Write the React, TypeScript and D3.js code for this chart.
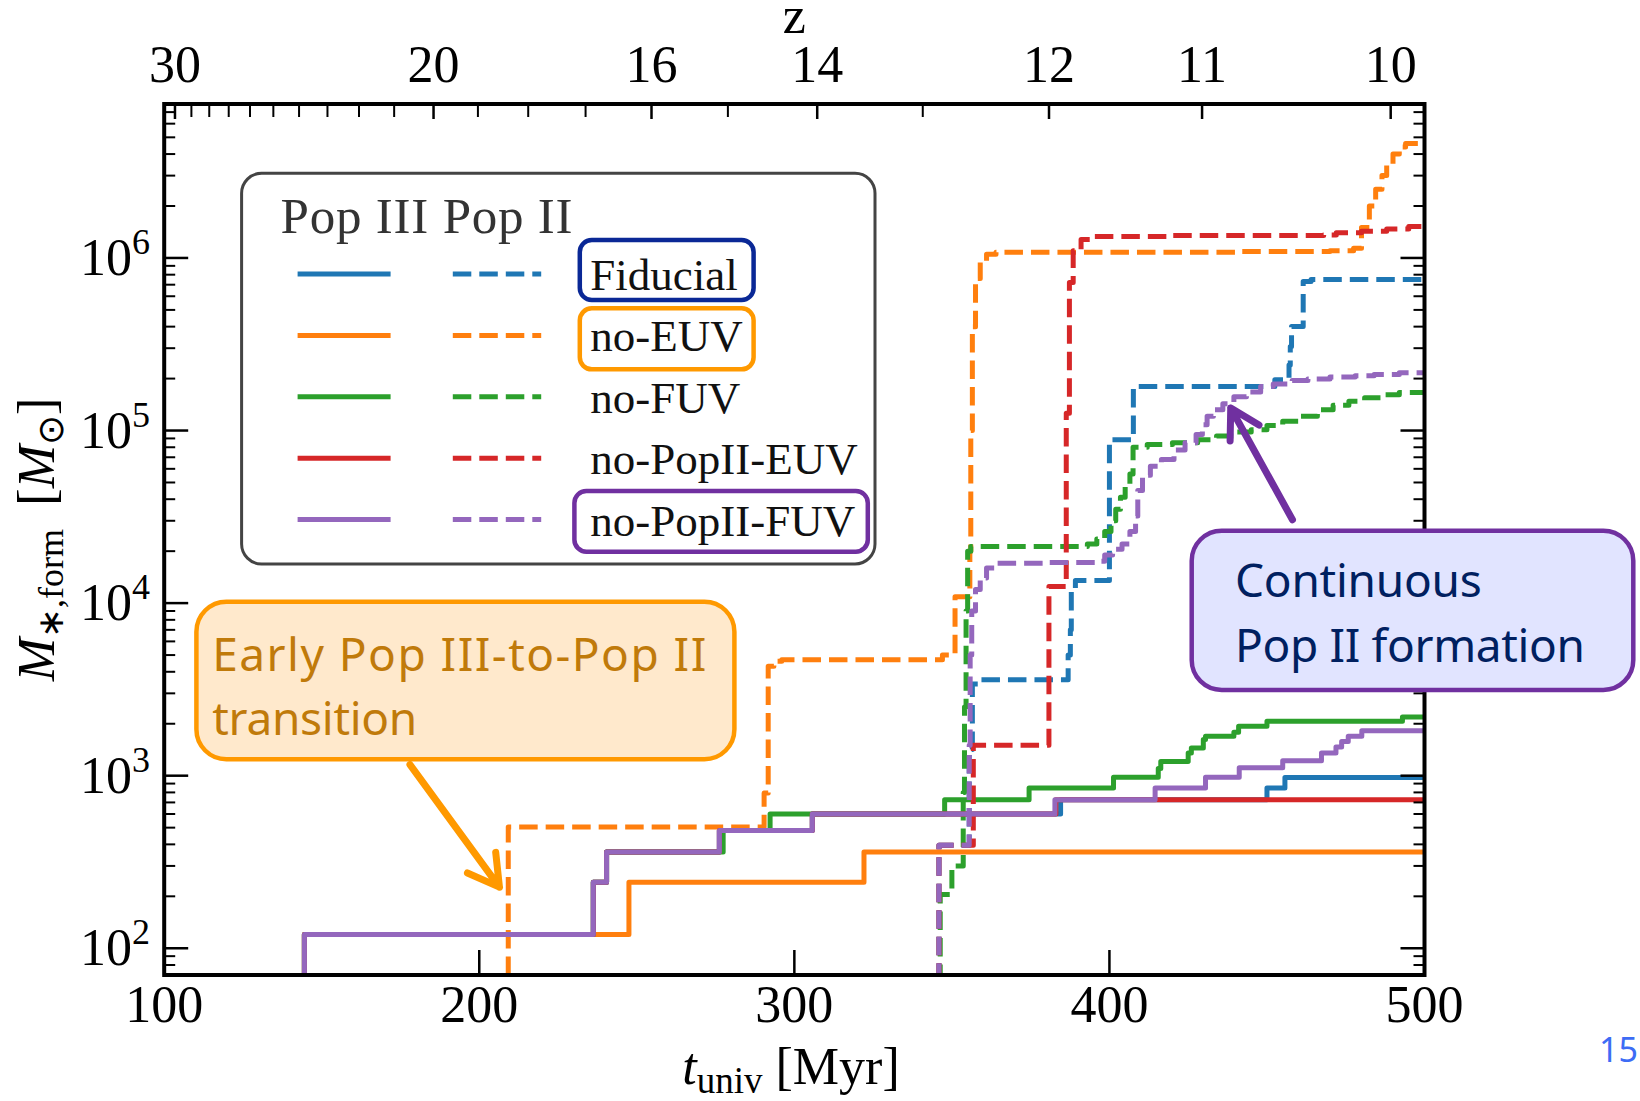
import React from 'react';
import * as d3 from 'd3';

type Pt = [number, number];

// Stand-in for "nothing formed yet" on the log axis (sits below the visible range).
const NONE = 1;

const MODELS = ['Fiducial', 'no-EUV', 'no-FUV', 'no-PopII-EUV', 'no-PopII-FUV'];
const COLORS = ['#1f77b4', '#ff7f0e', '#2ca02c', '#d62728', '#9467bd'];

// Cumulative formed stellar mass [Msun] vs cosmic time [Myr]; each point starts a new level.
// Pop III (solid)
const fiducialPop3: Pt[] = [[100, NONE], [144.5, 120], [236.2, 241], [240.4, 361], [276.2, 482], [305.7, 600], [384.5, 726], [450, 849], [455.7, 975], [500, 975]];
const noEuvPop3: Pt[] = [[100, NONE], [144.5, 120], [247.5, 241], [322.1, 361], [500, 361]];
const noFuvPop3: Pt[] = [[100, NONE], [144.5, 120], [236.2, 241], [240.4, 361], [277.4, 482], [292.3, 600], [347.7, 726], [374.5, 849], [401.3, 981], [415.5, 1100], [416.3, 1210], [425, 1352], [426, 1446], [429.8, 1618], [430.5, 1695], [439.5, 1784], [441, 1935], [450, 2070], [493, 2190], [500, 2190]];
const noPop2EuvPop3: Pt[] = [[100, NONE], [144.5, 120], [236.2, 241], [240.4, 361], [276.2, 482], [305.7, 600], [383, 726], [500, 726]];
const noPop2FuvPop3: Pt[] = [[100, NONE], [144.5, 120], [236.2, 241], [240.4, 361], [276.2, 482], [305.7, 600], [382.7, 726], [414.5, 849], [430.5, 981], [441.2, 1110], [455, 1220], [467.3, 1352], [471.9, 1466], [473.7, 1580], [475.8, 1695], [480.1, 1823], [500, 1823]];

// Pop II (dashed)
const fiducialPop2: Pt[] = [[100, NONE], [345.9, 395], [355.5, 1420], [356.5, 3400], [359, 3600], [386.9, 5000], [387.6, 7000], [387.9, 11800], [389.2, 13500], [400, 88500], [407.6, 180000], [452.5, 197000], [457, 240000], [457.4, 307000], [457.8, 401000], [461.5, 731000], [464, 750000], [500, 750000]];
const noEuvPop2: Pt[] = [[100, NONE], [209.2, 505], [290.4, 794], [291.7, 4300], [293.5, 4600], [296, 4700], [347, 5000], [351, 10900], [355.7, 20000], [356, 100000], [356.5, 400000], [357.5, 760000], [359, 950000], [361, 1050000], [364, 1080000], [440, 1090000], [470, 1100000], [477.5, 1140000], [480, 1500000], [482.5, 2000000], [484.5, 2500000], [486.5, 3000000], [488, 3500000], [490, 4000000], [492, 4400000], [494, 4600000], [500, 4600000]];
const noFuvPop2: Pt[] = [[100, NONE], [346.3, 205], [350, 300], [353.6, 800], [354, 2500], [354.5, 9000], [355, 20000], [356, 21300], [393, 22000], [396, 23500], [398.5, 26000], [400.5, 30000], [402, 35000], [403.5, 41000], [405, 48000], [406.5, 56000], [407.5, 80000], [412, 83000], [420, 85000], [428, 88500], [434, 93000], [440, 98000], [445, 101000], [450, 107000], [455, 113000], [460, 121000], [466, 132000], [471, 140000], [476, 148000], [481, 155000], [487, 161000], [492, 166000], [500, 166000]];
const noPop2EuvPop2: Pt[] = [[100, NONE], [345.9, 395], [356.8, 1500], [380.8, 12500], [386.3, 126000], [387.3, 720000], [388.5, 1100000], [391, 1280000], [394, 1330000], [420, 1350000], [468, 1360000], [472, 1400000], [480, 1430000], [488, 1470000], [495, 1520000], [500, 1550000]];
const noPop2FuvPop2: Pt[] = [[100, NONE], [345.9, 395], [355.5, 1500], [355.8, 5000], [356.3, 9000], [357.5, 12000], [359, 14000], [361, 16000], [364, 17000], [380, 17200], [396, 17500], [398.5, 19000], [401, 20500], [404, 22000], [406.5, 26000], [408.3, 32000], [409, 45000], [410.5, 55000], [413, 62000], [416.5, 68000], [420.5, 77000], [424, 85000], [427.5, 95000], [429.5, 108000], [431, 121000], [433, 132000], [436, 143000], [439.5, 157000], [443.5, 167000], [448, 180000], [452, 186000], [458, 195000], [463, 199000], [470, 204000], [478, 208000], [484, 211000], [492, 216000], [500, 220000]];

const POP3 = [fiducialPop3, noEuvPop3, noFuvPop3, noPop2EuvPop3, noPop2FuvPop3];
const POP2 = [fiducialPop2, noEuvPop2, noFuvPop2, noPop2EuvPop2, noPop2FuvPop2];

const X_TICKS = [100, 200, 300, 400, 500];
const Z_LABELED = [30, 20, 16, 14, 12, 11, 10];
const Z_MINOR = [29, 28, 27, 26, 25, 24, 23, 22, 21, 19, 18, 17, 15, 13];
const Y_DECADES = [2, 3, 4, 5, 6];

// Age of the universe [Myr] at redshift z (matter-dominated era)
const tUniv = (z: number) => 17850 * Math.pow(1 + z, -1.5);

const W = 1640;
const H = 1101;
const L = 164.2, R = 1424.5, T = 104, B = 975;
const SERIF = "'Liberation Serif', 'Times New Roman', serif";
const SANS = "'Noto Sans', 'Noto Sans CJK JP', sans-serif";
const LW = 5;
const DASH = '18.5 8';

export default function App() {
  const x = d3.scaleLinear().domain([100, 500]).range([L, R]);
  const y = d3.scaleLog().domain([70, 7.8e6]).range([B, T]);
  const line = d3.line<Pt>().x(d => x(d[0])).y(d => y(d[1])).curve(d3.curveStepAfter);

  const yMinor: number[] = [];
  for (let e = 1; e <= 6; e++) {
    for (let k = 2; k <= 9; k++) {
      const v = k * Math.pow(10, e);
      if (v > 70 && v < 7.8e6) yMinor.push(v);
    }
  }

  const legendRows = MODELS.map((m, i) => 274 + i * 61.4);

  // open arrowhead (tip and tail given in data space)
  const arrow = (tip: Pt, tail: Pt, len: number) => {
    const tx = x(tip[0]), ty = y(tip[1]);
    const sx = x(tail[0]), sy = y(tail[1]);
    const dx = sx - tx, dy = sy - ty;
    const n = Math.hypot(dx, dy);
    const ux = dx / n, uy = dy / n;
    const a = Math.PI / 6;
    const w1 = [tx + len * (ux * Math.cos(a) - uy * Math.sin(a)), ty + len * (ux * Math.sin(a) + uy * Math.cos(a))];
    const w2 = [tx + len * (ux * Math.cos(-a) - uy * Math.sin(-a)), ty + len * (ux * Math.sin(-a) + uy * Math.cos(-a))];
    return `M${sx},${sy}L${tx},${ty}M${w1[0]},${w1[1]}L${tx},${ty}L${w2[0]},${w2[1]}`;
  };

  return (
    <svg width={W} height={H} style={{ position: 'absolute', left: 0, top: 0, background: '#fff' }}>
      <defs>
        <clipPath id="plotArea">
          <rect x={L} y={T} width={R - L} height={B - T} />
        </clipPath>
      </defs>

      <g clipPath="url(#plotArea)" fill="none" strokeWidth={LW} strokeLinejoin="round">
        {MODELS.map((m, i) => (
          <g key={m}>
            <path d={line(POP3[i]) || ''} stroke={COLORS[i]} strokeLinecap="butt" />
            <path d={line(POP2[i]) || ''} stroke={COLORS[i]} strokeDasharray={DASH} strokeLinecap="butt" />
          </g>
        ))}
      </g>

      {/* axes frame */}
      <rect x={L} y={T} width={R - L} height={B - T} fill="none" stroke="#000" strokeWidth={4} />

      {/* bottom ticks */}
      {X_TICKS.map(t => (
        <g key={t}>
          <line x1={x(t)} x2={x(t)} y1={B} y2={B - 25} stroke="#000" strokeWidth={2.5} />
          <text x={x(t)} y={1021.7} textAnchor="middle" fontFamily={SERIF} fontSize={52}>{t}</text>
        </g>
      ))}

      {/* left/right y ticks */}
      {Y_DECADES.map(e => (
        <g key={e}>
          <line x1={L} x2={L + 24} y1={y(Math.pow(10, e))} y2={y(Math.pow(10, e))} stroke="#000" strokeWidth={2.5} />
          <line x1={R} x2={R - 24} y1={y(Math.pow(10, e))} y2={y(Math.pow(10, e))} stroke="#000" strokeWidth={2.5} />
          <text x={150} y={y(Math.pow(10, e)) + 17} textAnchor="end" fontFamily={SERIF} fontSize={52}>
            10<tspan fontSize={36} dy={-21}>{e}</tspan>
          </text>
        </g>
      ))}
      {yMinor.map(v => (
        <g key={v}>
          <line x1={L} x2={L + 11} y1={y(v)} y2={y(v)} stroke="#000" strokeWidth={2} />
          <line x1={R} x2={R - 11} y1={y(v)} y2={y(v)} stroke="#000" strokeWidth={2} />
        </g>
      ))}

      {/* top redshift axis */}
      {Z_LABELED.map(z => (
        <g key={z}>
          <line x1={x(tUniv(z))} x2={x(tUniv(z))} y1={T} y2={T + 15} stroke="#000" strokeWidth={2.5} />
          <text x={x(tUniv(z))} y={81.7} textAnchor="middle" fontFamily={SERIF} fontSize={52}>{z}</text>
        </g>
      ))}
      {Z_MINOR.map(z => (
        <line key={z} x1={x(tUniv(z))} x2={x(tUniv(z))} y1={T} y2={T + 13} stroke="#000" strokeWidth={2} />
      ))}
      <text x={(L + R) / 2} y={32.5} textAnchor="middle" fontFamily={SERIF} fontSize={52}>z</text>

      {/* axis titles */}
      <text x={791} y={1084} textAnchor="middle" fontFamily={SERIF} fontSize={52}>
        <tspan fontStyle="italic">t</tspan>
        <tspan fontSize={37} dy={9}>univ</tspan>
        <tspan dy={-9}>{' [Myr]'}</tspan>
      </text>
      <text transform={`translate(54,${(T + B) / 2}) rotate(-90)`} textAnchor="middle" fontFamily={SERIF} fontSize={52}>
        <tspan fontStyle="italic">M</tspan>
        <tspan fontSize={36} dy={9}>{'\u2217,form'}</tspan>
        <tspan dy={-9}>{' \u2009['}</tspan>
        <tspan fontStyle="italic">M</tspan>
        <tspan fontSize={36} dy={9}>{'\u2299'}</tspan>
        <tspan dy={-9}>]</tspan>
      </text>

      {/* legend */}
      <rect x={241.6} y={173.3} width={633.4} height={390.7} rx={20} fill="#fff" stroke="#444" strokeWidth={3} />
      <text x={280.6} y={232.7} fontFamily={SERIF} fontSize={51} fill="#333" textLength={292} lengthAdjust="spacing">Pop III Pop II</text>
      {MODELS.map((m, i) => (
        <g key={m}>
          <line x1={297.6} x2={390.6} y1={legendRows[i]} y2={legendRows[i]} stroke={COLORS[i]} strokeWidth={LW} />
          <line x1={452.8} x2={541.2} y1={legendRows[i]} y2={legendRows[i]} stroke={COLORS[i]} strokeWidth={LW} strokeDasharray={DASH} />
          <text x={590.2} y={legendRows[i] + 16} fontFamily={SERIF} fontSize={45} fill="#111">{m}</text>
        </g>
      ))}
      <rect x={579.8} y={240} width={173.8} height={60} rx={12} fill="none" stroke="#0a2896" strokeWidth={4.5} />
      <rect x={579.8} y={308.3} width={173.8} height={61} rx={12} fill="none" stroke="#ff9900" strokeWidth={4.5} />
      <rect x={574.4} y={491} width={293.4} height={60.7} rx={12} fill="none" stroke="#7030a0" strokeWidth={4.5} />

      {/* callout: early transition */}
      <rect x={196.4} y={601.7} width={538} height={157.6} rx={30} fill="#ffe9cc" stroke="#ff9900" strokeWidth={4.5} />
      <text x={212.3} y={671} fontFamily={SANS} fontSize={46} fill="#c07a0a" textLength={494} lengthAdjust="spacing">Early Pop III-to-Pop II</text>
      <text x={212.3} y={735} fontFamily={SANS} fontSize={46} fill="#c07a0a" textLength={205} lengthAdjust="spacing">transition</text>
      <path d={arrow([206.4, 226], [178, 1160], 35)} fill="none" stroke="#ff9900" strokeWidth={7} strokeLinecap="round" strokeLinejoin="round" />

      {/* callout: continuous formation */}
      <rect x={1191.7} y={530.7} width={441.6} height={159.3} rx={30} fill="#e1e4ff" stroke="#7030a0" strokeWidth={4.5} />
      <text x={1235} y={597.3} fontFamily={SANS} fontSize={46} fill="#002060" textLength={246.7} lengthAdjust="spacing">Continuous</text>
      <text x={1235} y={661.7} fontFamily={SANS} fontSize={46} fill="#002060" textLength={350} lengthAdjust="spacing">Pop II formation</text>
      <path d={arrow([438.5, 135000], [458.1, 30400], 33)} fill="none" stroke="#7030a0" strokeWidth={7} strokeLinecap="round" strokeLinejoin="round" />

      {/* slide number */}
      <text x={1638} y={1062} textAnchor="end" fontFamily={SANS} fontSize={34} fill="#3d6cf5">15</text>
    </svg>
  );
}
